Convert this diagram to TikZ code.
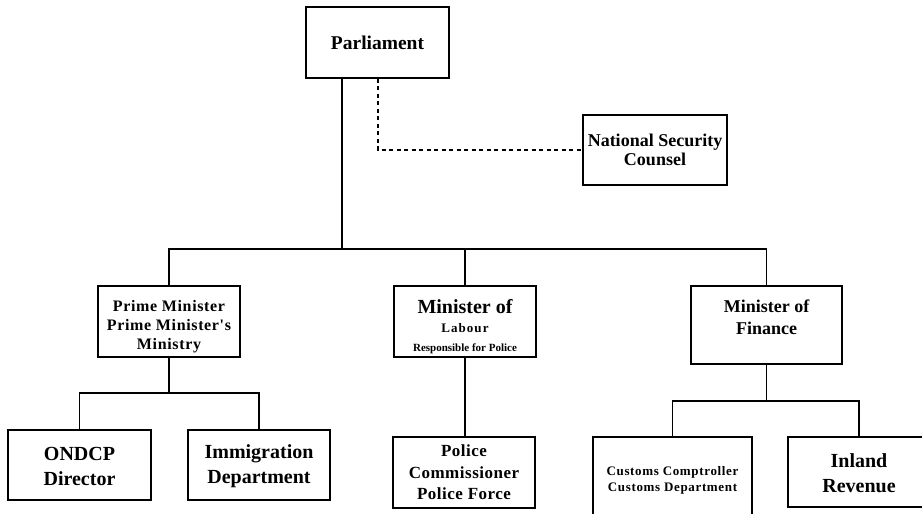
\documentclass[tikz,border=0pt]{standalone}
\usepackage{fontspec}
\setmainfont{Liberation Serif}[Ligatures=TeXOff]
\newcommand{\fs}[2]{\fontsize{#1}{#2}\selectfont}
\newcommand{\ls}[1]{\addfontfeature{LetterSpace=#1}}
\newcommand{\tstrut}[1]{\rule{0pt}{#1}}
\begin{document}
\begin{tikzpicture}[x=1pt,y=-1pt,
  box/.style={draw, line width=1.2pt, rectangle, inner sep=0pt, align=center},
  conn/.style={line width=1.2pt},
  dconn/.style={line width=1.1pt, dash pattern=on 4pt off 3.5pt}]
\useasboundingbox (0,0) rectangle (922,514);
\clip (0,0) rectangle (922,514);
\fill[white] (0,0) rectangle (922,514);

\node[box, minimum width=143pt, minimum height=71pt, font=\bfseries\fs{19.5}{23}] (parl) at (377.5,42.5) {Parliament};
\node[box, minimum width=144pt, minimum height=70pt, font=\bfseries\fs{18}{19.5}] (nsc) at (655,150) {National Security\\Counsel};

\node[box, minimum width=142pt, minimum height=71pt, font=\bfseries\fs{16}{19}\ls{4}] (pm) at (169,321.5) {\tstrut{21pt}Prime Minister\\Prime Minister's\\Ministry};
\node[box, minimum width=142pt, minimum height=71pt, font=\bfseries\fs{20}{19}] (lab) at (465,321.5) {\fs{20}{19}\tstrut{24pt}Minister of\\\fs{13}{19}\ls{8}Labour\\\fs{11}{14}Responsible for Police};
\node[box, minimum width=151pt, minimum height=78pt, font=\bfseries\fs{18}{22}] (fin) at (766.5,325) {Minister of\\Finance\rule[-16pt]{0pt}{16pt}};

\node[box, minimum width=143pt, minimum height=70pt, font=\bfseries\fs{20}{25}] (ond) at (79.5,465) {\tstrut{17pt}ONDCP\\Director};
\node[box, minimum width=142pt, minimum height=70pt, font=\bfseries\fs{20}{25}] (imm) at (259,465) {\tstrut{17pt}Immigration\\Department};
\node[box, minimum width=142pt, minimum height=71pt, font=\bfseries\fs{17}{21.5}\ls{3}] (pol) at (464,472.5) {Police\\Commissioner\\Police Force};
\node[box, minimum width=159pt, minimum height=86pt, font=\bfseries\fs{13}{16}\ls{5}] (cus) at (672.5,480) {Customs Comptroller\\Customs Department};
\node[box, minimum width=142pt, minimum height=70pt, font=\bfseries\fs{20}{25}] (inl) at (859,472) {\tstrut{17pt}Inland\\Revenue};

\coordinate (bar) at (342,249);
\coordinate (dsh) at (378,150);
\coordinate (pmbar) at (169,393);
\coordinate (finbar) at (766.5,401);

\draw[conn] (parl.south -| bar) -- (bar);
\draw[conn] (pm.north) |- (bar) -| (fin.north);
\draw[conn] (lab.north) -- (lab.north |- bar);
\draw[dconn] (parl.south -| dsh) |- (nsc.west);

\draw[conn] (pm.south) -- (pmbar);
\draw[conn] (ond.north) |- (pmbar) -| (imm.north);
\draw[conn] (lab.south) -- (lab.south |- pol.north);
\draw[conn] (fin.south) -- (finbar);
\draw[conn] (cus.north) |- (finbar) -| (inl.north);
\end{tikzpicture}
\end{document}
